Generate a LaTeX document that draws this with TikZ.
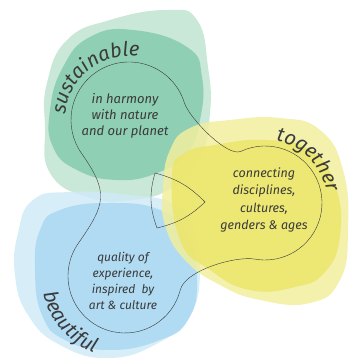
\documentclass[tikz,border=0pt]{standalone}
\usepackage{fontspec}
\setmainfont{Fira Sans}
\usetikzlibrary{calc,decorations.text}

\definecolor{greenlight}{HTML}{C9E8D8}
\definecolor{greendark}{HTML}{8FCFB4}
\definecolor{yellowlight}{HTML}{F1EE9E}
\definecolor{yellowdark}{HTML}{ECE66A}
\definecolor{bluelight}{HTML}{D0EAF7}
\definecolor{bluedark}{HTML}{A9D8F2}
\definecolor{inkgray}{HTML}{3A3A3A}

\newcommand{\curvefont}{\itshape\fontsize{20}{24}\selectfont}

\begin{document}
\begin{tikzpicture}[x=1pt, y=1pt,
    blob/.style={fill opacity=0.85},
    outline/.style={draw=inkgray, line width=0.4pt},
    body/.style={font=\itshape\fontsize{12}{16}\selectfont, text=inkgray, align=center},
    curved/.style={decorate, decoration={text along path, text align=center,
        text color=inkgray, text={|\curvefont|#1}}}]
  \useasboundingbox (0,0) rectangle (348,358);

  % Centres of the three rings
  \coordinate (gc) at (129,238);
  \coordinate (yc) at (265,155);
  \coordinate (bc) at (125,82);

  % Green blob
  \fill[greenlight] plot[smooth cycle, tension=0.8] coordinates {(50,185) (45,231) (47,275) (67,318) (110,338) (167,348) (197,338) (208,291) (210,245) (200,201) (173,171) (133,158) (87,161)};
  \fill[greendark] plot[smooth cycle, tension=0.8] coordinates {(53,211) (50,248) (63,291) (90,321) (133,328) (187,311) (202,281) (200,238) (187,205) (157,185) (117,178) (77,188)};

  % Blue blob
  \fill[bluelight, blob] plot[smooth cycle, tension=0.8] coordinates {(18,125) (33,158) (70,166) (130,163) (175,153) (195,123) (200,83) (190,43) (160,16) (110,0) (60,13) (28,43) (15,83)};
  \fill[bluedark, blob] plot[smooth cycle, tension=0.8] coordinates {(40,128) (60,148) (110,155) (160,148) (187,123) (197,78) (188,38) (160,18) (110,8) (65,18) (42,43) (35,88)};

  % Yellow blob
  \fill[yellowlight, blob] plot[smooth cycle, tension=0.8] coordinates {(163,171) (170,208) (190,230) (230,238) (280,240) (320,228) (343,188) (348,128) (340,78) (310,55) (260,58) (220,73) (185,98) (165,133)};
  \fill[yellowdark, blob] plot[smooth cycle, tension=0.8] coordinates {(172,183) (185,205) (215,213) (265,218) (310,208) (335,173) (340,123) (325,86) (295,71) (250,68) (210,88) (180,118)};

  % Outline round the three rings
  \draw[outline] ($(gc)+(215:58)$) arc[start angle=215, end angle=17, radius=58]
    .. controls +(-73:15) and +(205:15) .. ($(yc)+(115:57)$)
    arc[start angle=115, end angle=-100, radius=57]
    .. controls +(170:20) and +(76:20) .. ($(bc)+(346:57)$)
    arc[start angle=346, end angle=145, radius=57]
    .. controls +(55:48) and +(-55:48) .. cycle;

  % Small piece in the middle
  \coordinate (ta) at (155,185);
  \coordinate (tt) at (205,156);
  \coordinate (tc) at (157,130);
  \draw[outline] (ta) to[bend left=15] (tt) to[bend left=15] (tc) to[bend left=18] (ta);

  % Texts inside the rings
  \node[body, font=\itshape\fontsize{13}{16}\selectfont] (harmony) at (125,242) {in harmony\\with nature\\and our planet};
  \node[body, font=\itshape\fontsize{12.5}{17.5}\selectfont] (connecting) at (264,158) {connecting\\disciplines,\\cultures,\\genders \& ages};
  \node[body] (quality) at (123,77) {quality of\\experience,\\inspired\ \ by\\art \& culture};

  % Curved titles
  \path[curved=sustainable] ($(gc)+(180:64)$) arc[start angle=180, end angle=76, radius=64];
  \path[curved=together] ($(yc)+(96:63)$) arc[start angle=96, end angle=-6, radius=63];
  \path[curved=beautiful] ($(bc)+(176:83)$) arc[start angle=176, end angle=264, radius=83];
\end{tikzpicture}
\end{document}
